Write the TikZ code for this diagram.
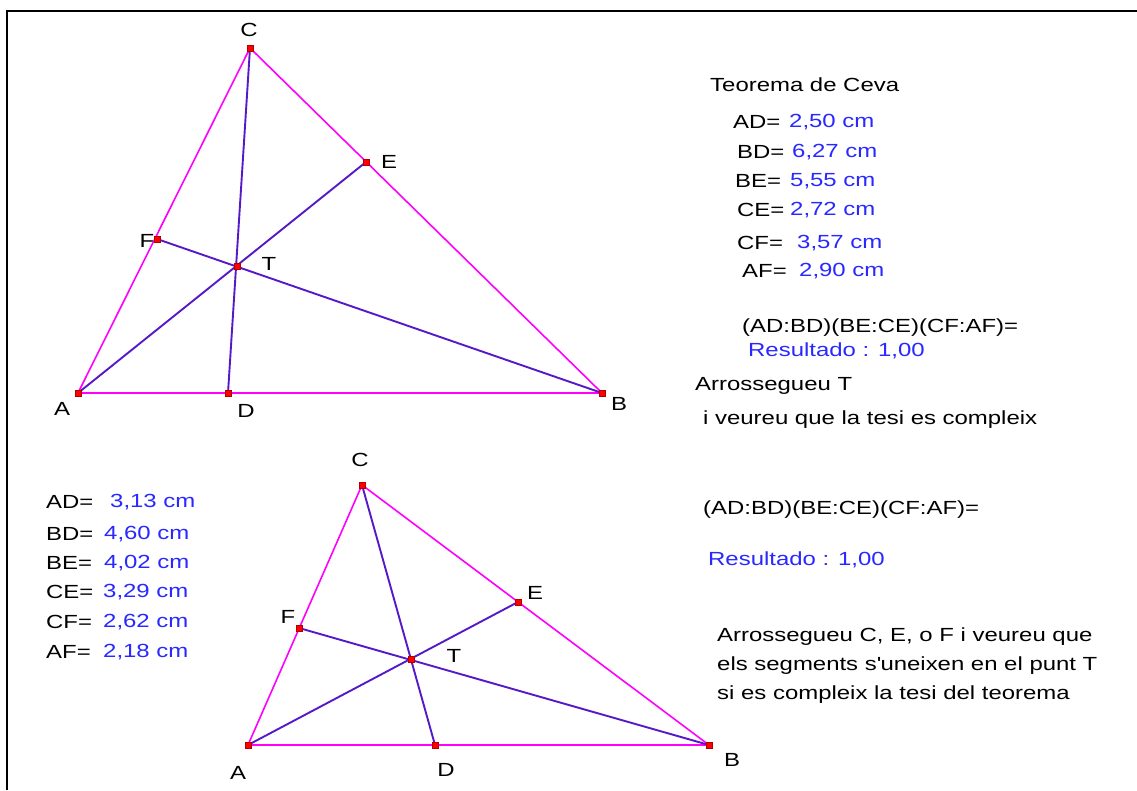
\documentclass[tikz,border=0pt]{standalone}
\usepackage{fontspec}
\setmainfont{Liberation Sans}[FakeStretch=1.26]
\definecolor{mag}{RGB}{255,0,255}
\definecolor{cev}{RGB}{85,25,200}
\definecolor{valblue}{RGB}{40,40,255}
\newcommand{\straightquote}{\XeTeXglyph\XeTeXcharglyph"0027\relax}
\begin{document}
\begin{tikzpicture}[x=1pt,y=-1pt,
  side/.style={draw=mag,line width=1.6pt},
  base/.style={draw=mag,line width=2.4pt},
  cevian/.style={draw=cev,line width=1.9pt},
  pt/.style={fill=red,inner sep=0pt,minimum size=5.5pt,draw=red!70!black,line width=0.4pt},
  lbl/.style={font=\fontsize{19}{22}\selectfont,inner sep=0pt,text=black},
  txt/.style={font=\fontsize{19}{22}\selectfont,inner sep=0pt,anchor=west,text=black},
  val/.style={font=\fontsize{19}{22}\selectfont,inner sep=0pt,anchor=west,text=valblue}]
\useasboundingbox (0,0) rectangle (1137,790);
\fill[white] (0,0) rectangle (1137,790);
% frame
\draw[line width=2pt] (7,790) -- (7,11) -- (1137,11);

% ---- top triangle ----
\coordinate (A1) at (78,393);
\coordinate (B1) at (602,393);
\coordinate (C1) at (250,48);
\coordinate (D1) at (228,393);
\coordinate (E1) at (366,162);
\coordinate (F1) at (157,239);
\coordinate (T1) at (237,266);
\draw[side] (A1) -- (C1) -- (B1);
\draw[base] (A1) -- (B1);
\draw[cevian] (C1) -- (D1);
\draw[cevian] (A1) -- (E1);
\draw[cevian] (F1) -- (B1);
\foreach \p in {A1,B1,C1,D1,E1,F1,T1} \node[pt] (p\p) at (\p) {};
\node[lbl] (lC1) at (249,30) {C};
\node[lbl] (lA1) at (62,409) {A};
\node[lbl] (lB1) at (619,404) {B};
\node[lbl] (lD1) at (246,411) {D};
\node[lbl] (lE1) at (389,162) {E};
\node[lbl] (lF1) at (147,241) {F};
\node[lbl] (lT1) at (269,264) {T};

% ---- bottom triangle ----
\coordinate (A2) at (248,745);
\coordinate (B2) at (709,745);
\coordinate (C2) at (362,485);
\coordinate (D2) at (435,745);
\coordinate (E2) at (518,602);
\coordinate (F2) at (299,628);
\coordinate (T2) at (411,659);
\draw[side] (A2) -- (C2) -- (B2);
\draw[base] (A2) -- (B2);
\draw[cevian] (C2) -- (D2);
\draw[cevian] (A2) -- (E2);
\draw[cevian] (F2) -- (B2);
\foreach \p in {A2,B2,C2,D2,E2,F2,T2} \node[pt] (p\p) at (\p) {};
\node[lbl] (lC2) at (360,460) {C};
\node[lbl] (lA2) at (238,773) {A};
\node[lbl] (lB2) at (732,760) {B};
\node[lbl] (lD2) at (446,770) {D};
\node[lbl] (lE2) at (535,593) {E};
\node[lbl] (lF2) at (288,617) {F};
\node[lbl] (lT2) at (454,656) {T};

% ---- top right text ----
\node[txt] (title) at (710,85) {Teorema de Ceva};
\node[txt] (k1) at (733,122) {AD=}; \node[val] (v1) at (789,122) {2,50 cm};
\node[txt] (k2) at (737,152) {BD=}; \node[val] (v2) at (792,152) {6,27 cm};
\node[txt] (k3) at (735,181) {BE=}; \node[val] (v3) at (790,181) {5,55 cm};
\node[txt] (k4) at (737,210) {CE=}; \node[val] (v4) at (790,210) {2,72 cm};
\node[txt] (k5) at (737,243) {CF=}; \node[val] (v5) at (797,243) {3,57 cm};
\node[txt] (k6) at (742,271) {AF=}; \node[val] (v6) at (799,271) {2,90 cm};
\node[txt] (prod1) at (742,328) {(AD:BD)(BE:CE)(CF:AF)=};
\node[val] (res1) at (748,351) {Resultado : 1,00};
\node[txt] (arr1) at (695,386) {Arrossegueu T};
\node[txt] (arr1b) at (703,420) {i veureu que la tesi es compleix};

% ---- bottom left values ----
\node[txt] (m1) at (46,502) {AD=}; \node[val] (w1) at (110,502) {3,13 cm};
\node[txt] (m2) at (46,534) {BD=}; \node[val] (w2) at (104,534) {4,60 cm};
\node[txt] (m3) at (46,563) {BE=}; \node[val] (w3) at (104,563) {4,02 cm};
\node[txt] (m4) at (46,592) {CE=}; \node[val] (w4) at (103,592) {3,29 cm};
\node[txt] (m5) at (46,622) {CF=}; \node[val] (w5) at (103,622) {2,62 cm};
\node[txt] (m6) at (46,652) {AF=}; \node[val] (w6) at (103,652) {2,18 cm};

% ---- bottom right text ----
\node[txt] (prod2) at (703,510) {(AD:BD)(BE:CE)(CF:AF)=};
\node[val] (res2) at (708,560) {Resultado : 1,00};
\node[txt] (arr2) at (717,637) {Arrossegueu C, E, o F i veureu que};
\node[txt] (arr2b) at (717,666) {els segments s\straightquote uneixen en el punt T};
\node[txt] (arr2c) at (717,695) {si es compleix la tesi del teorema};
\end{tikzpicture}
\end{document}
